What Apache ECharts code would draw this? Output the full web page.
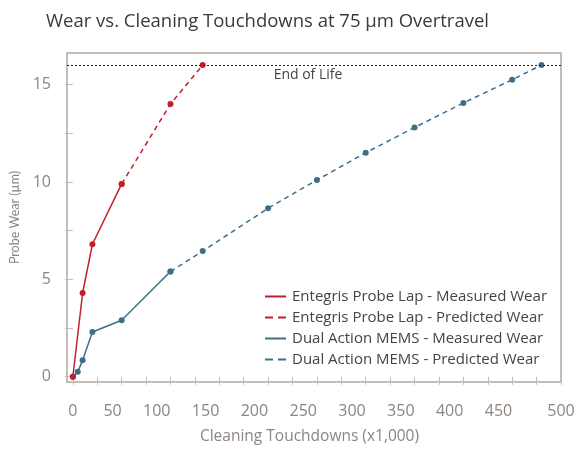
<!DOCTYPE html>
<html>
<head>
<meta charset="utf-8">
<script src="https://cdn.jsdelivr.net/npm/echarts@6/dist/echarts.min.js"></script>
<style>html,body{margin:0;padding:0;background:#fff}#c{width:584px;height:454px}</style>
</head>
<body>
<div id="c"></div>
<script>
// Data
var entegrisMeasuredX = [0, 10, 20, 50];
var entegrisMeasuredY = [0, 4.3, 6.8, 9.9];
var entegrisPredX = [50, 100, 133];
var entegrisPredY = [9.9, 14.0, 16.0];
var memsMeasuredX = [0, 5, 10, 20, 50, 100];
var memsMeasuredY = [0, 0.25, 0.85, 2.3, 2.9, 5.4];
var memsPredX = [100, 133, 200, 250, 300, 350, 400, 450, 480];
var memsPredY = [5.4, 6.45, 8.65, 10.1, 11.5, 12.8, 14.05, 15.25, 16.0];
var endOfLife = 16;
var xTicks = [0,25,50,75,100,125,150,175,200,225,250,275,300,325,350,375,400,425,450,475,500];
var xLabels = [0,50,100,150,200,250,300,350,400,450,500];
var yTicks = [0,2.5,5,7.5,10,12.5,15];
var yLabels = [0,5,10,15];
var seriesNames = [
  'Entegris Probe Lap - Measured Wear',
  'Entegris Probe Lap - Predicted Wear',
  'Dual Action MEMS - Measured Wear',
  'Dual Action MEMS - Predicted Wear'
];

function pairs(xs, ys) { return xs.map(function (x, i) { return [x, ys[i]]; }); }

var RED = '#c0202b', BLUE = '#3f6f88', FRAME = '#c4bcb5', GRAYTXT = '#8c8580';
var FONT = 'Open Sans';
var solidIcon = 'path://M0,0h21v2h-21z';
var dashIcon = 'path://M0,0h8v2h-8zM13,0h8v2h-8z';

var chart = echarts.init(document.getElementById('c'), null, {renderer: 'canvas'});
chart.setOption({
  animation: false,
  textStyle: {fontFamily: FONT},
  title: {
    text: 'Wear vs. Cleaning Touchdowns at 75 µm Overtravel',
    left: 41, top: 7,
    textStyle: {fontFamily: FONT, fontSize: 18.5, fontWeight: 'normal', color: '#3a3a3a'}
  },
  grid: {left: 67, right: 23, top: 53, bottom: 72, show: true, borderColor: FRAME, borderWidth: 2, backgroundColor: '#fff'},
  legend: {
    orient: 'vertical', left: 265, top: 289, itemWidth: 21, itemHeight: 2, itemGap: 6, padding: 0,
    textStyle: {fontFamily: FONT, fontSize: 15, color: '#444', padding: [0, 0, 0, 1]},
    data: [
      {name: seriesNames[0], icon: solidIcon},
      {name: seriesNames[1], icon: dashIcon},
      {name: seriesNames[2], icon: solidIcon},
      {name: seriesNames[3], icon: dashIcon}
    ]
  },
  xAxis: {
    type: 'value', min: -6, max: 500,
    name: 'Cleaning Touchdowns (x1,000)', nameLocation: 'middle', nameGap: 47,
    nameTextStyle: {fontFamily: FONT, fontSize: 15.5, color: GRAYTXT, padding: [0, 9, 0, 0]},
    axisLine: {show: false},
    axisTick: {show: true, length: 8, customValues: xTicks, lineStyle: {color: FRAME, width: 1}},
    splitLine: {show: false},
    axisLabel: {customValues: xLabels, align: 'right', alignMinLabel: 'center', alignMaxLabel: 'center', margin: 21, fontSize: 16, color: GRAYTXT, fontFamily: FONT}
  },
  yAxis: {
    type: 'value', min: -0.27, max: 16.62,
    name: 'Probe Wear (µm)', nameLocation: 'middle', nameGap: 45,
    nameTextStyle: {fontFamily: 'Lato', fontSize: 12.5, color: GRAYTXT},
    axisLine: {show: false},
    axisTick: {show: true, length: 8, customValues: yTicks, lineStyle: {color: FRAME, width: 1}},
    splitLine: {show: false},
    axisLabel: {customValues: yLabels, margin: 16, fontSize: 16, color: GRAYTXT, fontFamily: FONT}
  },
  series: [
    {
      name: seriesNames[0], type: 'line', data: pairs(entegrisMeasuredX, entegrisMeasuredY),
      color: RED, symbol: 'circle', symbolSize: 6, lineStyle: {width: 1.5, color: RED}, itemStyle: {color: RED}, z: 3,
      markLine: {
        silent: true, symbol: 'none', animation: false,
        lineStyle: {color: '#222', type: [2, 2], width: 1},
        label: {show: true, position: 'insideMiddleBottom', formatter: 'End of Life', color: '#444', fontSize: 14, fontFamily: FONT, distance: 3, padding: [0, 12, 0, 0]},
        data: [{yAxis: endOfLife}]
      }
    },
    {
      name: seriesNames[1], type: 'line', data: pairs(entegrisPredX, entegrisPredY),
      color: RED, symbol: 'circle', symbolSize: 6, lineStyle: {width: 1.5, type: [5, 4], color: RED}, itemStyle: {color: RED}, z: 3
    },
    {
      name: seriesNames[2], type: 'line', data: pairs(memsMeasuredX, memsMeasuredY),
      color: BLUE, symbol: 'circle', symbolSize: 6, lineStyle: {width: 1.5, color: BLUE}, itemStyle: {color: BLUE}, z: 2
    },
    {
      name: seriesNames[3], type: 'line', data: pairs(memsPredX, memsPredY),
      color: BLUE, symbol: 'circle', symbolSize: 6, lineStyle: {width: 1.5, type: [5, 4], color: BLUE}, itemStyle: {color: BLUE}, z: 2
    }
  ]
});
</script>
</body>
</html>
